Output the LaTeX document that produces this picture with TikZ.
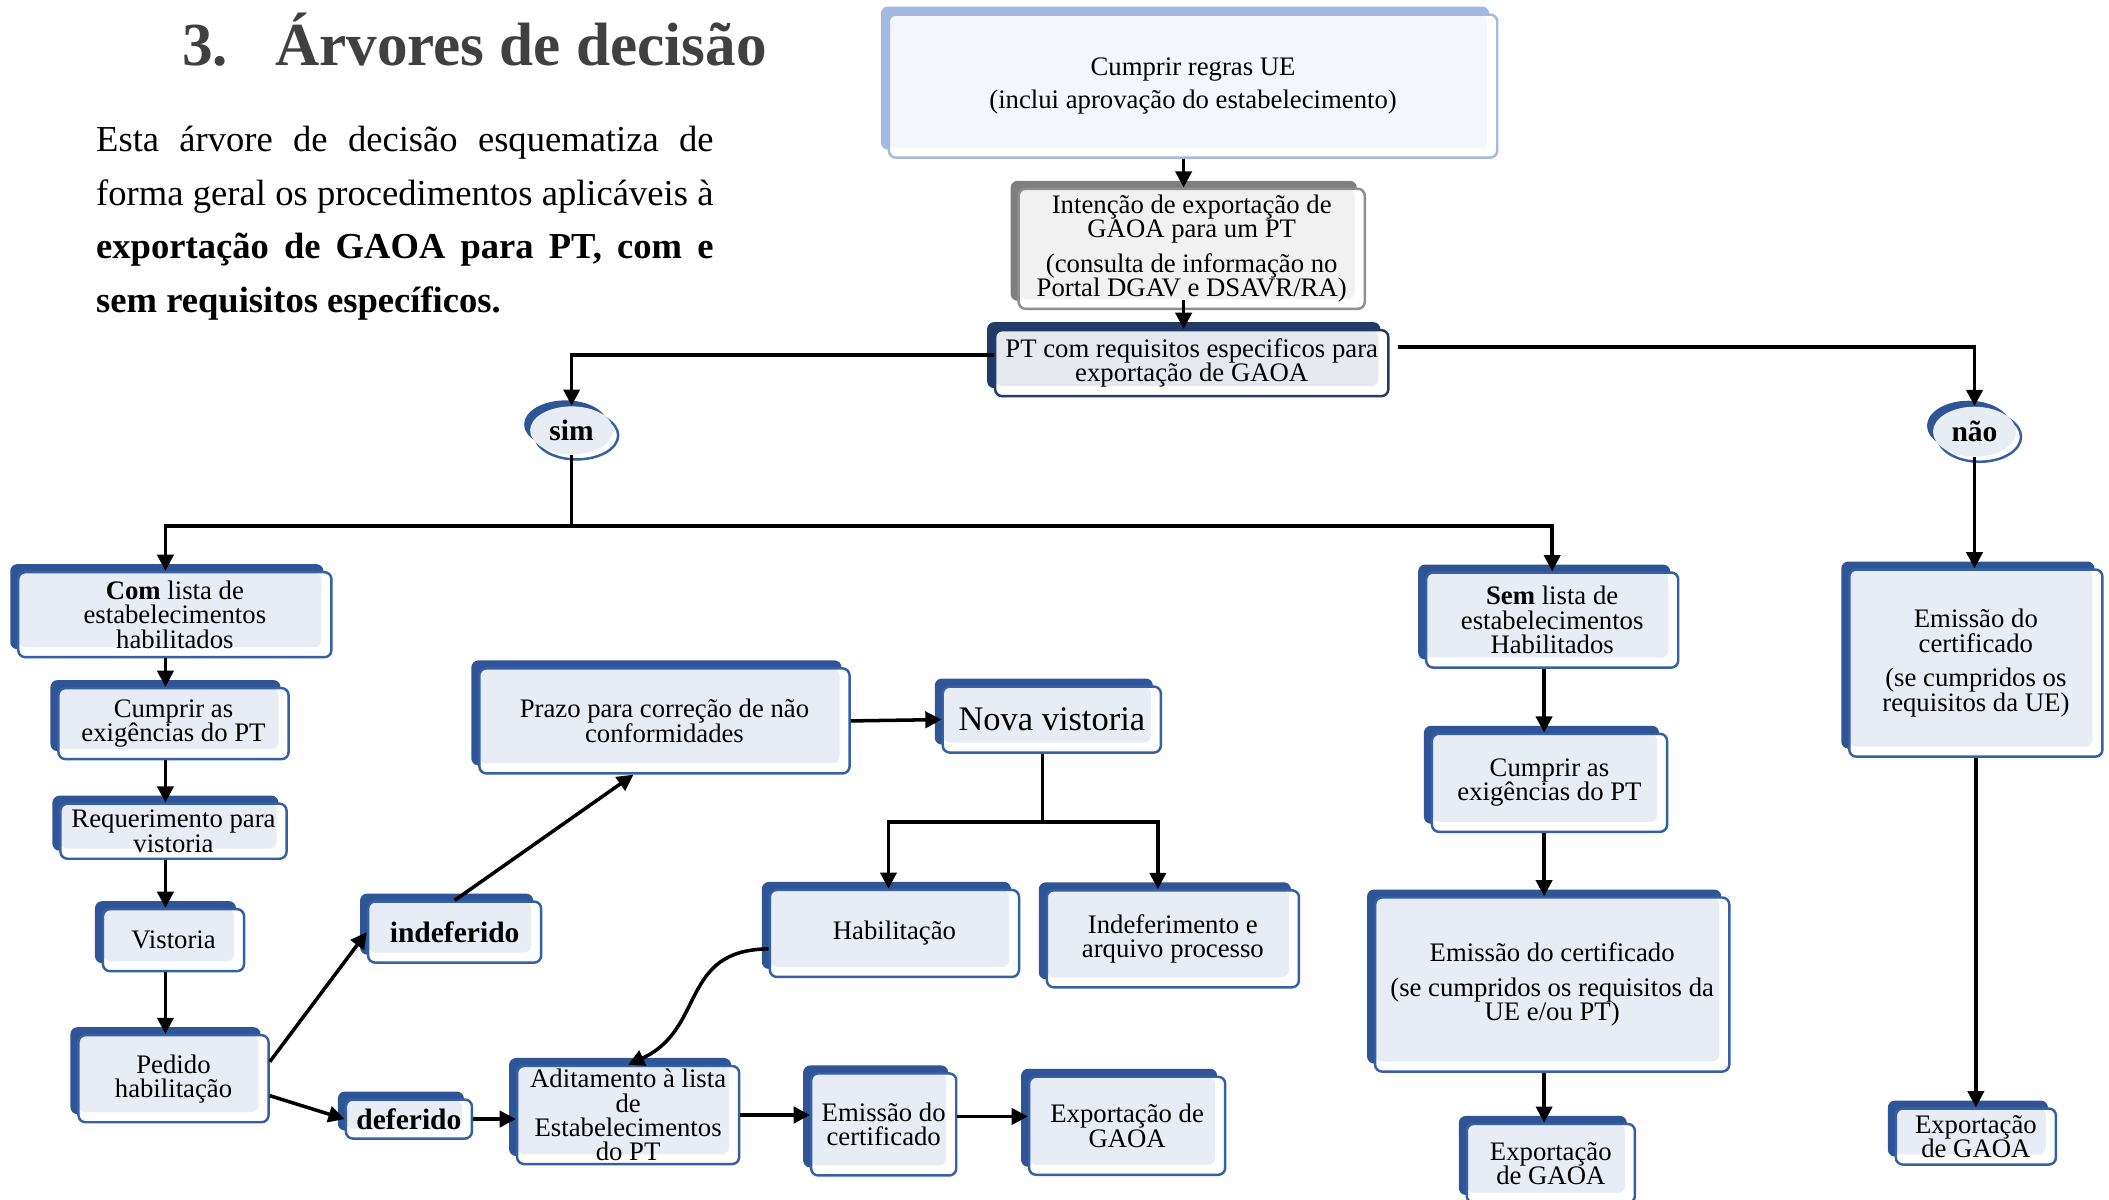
\documentclass[tikz,border=0pt]{standalone}
\usepackage{fontspec}
\setmainfont{Liberation Serif}
\usepackage{tikz}
\usetikzlibrary{arrows.meta,shapes.geometric,shadows}
\definecolor{bandblue}{HTML}{2F5597}
\definecolor{frameblue}{HTML}{3560A6}
\definecolor{panelblue}{HTML}{E8ECF4}
\definecolor{skyband}{HTML}{A3B9E2}
\definecolor{skypanel}{HTML}{F3F6FB}
\definecolor{greyband}{HTML}{7F7F7F}
\definecolor{greyframe}{HTML}{8E8E8E}
\definecolor{greypanel}{HTML}{F1F1F1}
\definecolor{navyband}{HTML}{213A66}
\definecolor{navypanel}{HTML}{E6E8EF}
\definecolor{titlegrey}{HTML}{404040}

% lines may sit closer than their glyphs allow
\newcommand\tightlines{\lineskiplimit=-10pt\relax}

\tikzset{
  wh/.style 2 args={minimum width=#1cm, minimum height=#2cm},
  % white frame with a coloured band behind it (up-left) and a tinted panel inside
  framed/.style n args={3}{rounded corners=2pt, fill=white, draw=#2, line width=0.7pt,
    general shadow={fill=#1, shadow xshift=-0.08cm, shadow yshift=0.08cm},
    path picture={\fill[#3, rounded corners=2pt] (path picture bounding box.north west)
      rectangle ([xshift=-0.1cm, yshift=0.1cm]path picture bounding box.south east);}},
  boxtext/.style={inner sep=0pt, align=center,
    font=\fontsize{7.6}{6.9}\selectfont\tightlines},
  box/.style={boxtext, framed={bandblue}{frameblue}{panelblue}},
  skybox/.style={boxtext, framed={skyband}{skyband}{skypanel}},
  greybox/.style={boxtext, framed={greyband}{greyframe}{greypanel}},
  navybox/.style={boxtext, framed={navyband}{navyband}{navypanel}},
  bold/.style={font=\fontsize{8.4}{8}\selectfont\bfseries},
  oval/.style={ellipse, fill=panelblue, inner sep=0pt, bold,
    general shadow={fill=white, draw=frameblue, line width=0.7pt,
                    shadow xshift=0.05cm, shadow yshift=-0.05cm},
    general shadow={fill=bandblue, shadow xshift=-0.06cm, shadow yshift=0.06cm}},
  link/.style={line width=1pt},
  arr/.style={link, -{Triangle[length=4.6pt,width=4.6pt]}}
}

\begin{document}
\begin{tikzpicture}[x=0.01345cm, y=-0.01345cm]
  \useasboundingbox (0,0) rectangle (1568,892);

  % ================= heading and intro =================
  \node[anchor=base west, inner sep=0pt, text=titlegrey,
        font=\fontsize{17.4}{20}\selectfont\bfseries] (secnum) at (135,49) {3.};
  \node[anchor=base west, inner sep=0pt, text=titlegrey,
        font=\fontsize{17.4}{20}\selectfont\bfseries] (title) at (204,49) {Árvores de decisão};
  \node[anchor=north west, text width=6.17cm, align=justify, inner sep=0pt,
        font=\fontsize{10.4}{15.3}\selectfont] (intro) at (71,93)
    {Esta árvore de decisão esquematiza de\linebreak
     forma geral os procedimentos aplicáveis à\linebreak
     \textbf{exportação de GAOA para PT, com e\linebreak
     sem requisitos específicos.}};

  % ================= top of the tree =================
  \node[skybox, wh={6.08}{1.43}] (ue) at (887,64)
    {Cumprir regras UE\\[2.7pt](inclui aprovação do estabelecimento)};
  \node[greybox, wh={3.46}{1.20}] (intent) at (886,185)
    {Intenção de exportação de\\GAOA para um PT\\[3pt](consulta de informação no\\Portal DGAV e DSAVR/RA)};
  \node[navybox, wh={3.93}{0.66}] (pt) at (886,270)
    {PT com requisitos especificos para\\exportação de GAOA};
  \node[oval, wh={0.83}{0.48}] (sim) at (425,320) {sim};
  \node[oval, wh={0.83}{0.50}] (nao) at (1468,321) {não};

  % ================= branch "sim": with list =================
  \node[box, wh={3.13}{0.85}] (com) at (130,457)
    {\textbf{Com} lista de\\estabelecimentos\\habilitados};
  \node[box, wh={2.30}{0.71}] (cumL) at (129,538) {Cumprir as\\exigências do PT};
  \node[box, wh={2.26}{0.55}] (req) at (129,618) {Requerimento para\\vistoria};
  \node[box, wh={1.41}{0.62}] (vis) at (129,699) {Vistoria};
  \node[box, wh={1.90}{0.87}] (ped) at (129,802) {Pedido\\habilitação};
  \node[box, bold, wh={1.73}{0.61}] (indef) at (338,693) {indeferido};
  \node[box, bold, wh={1.26}{0.39}] (def) at (304,832) {deferido};
  \node[box, wh={3.70}{1.05}] (prazo) at (494,536) {Prazo para correção de não\\conformidades};
  \node[box, wh={2.18}{0.66}, font=\fontsize{9.8}{10}\selectfont] (nova) at (782,535) {Nova vistoria};
  \node[box, wh={2.49}{0.87}] (hab) at (665,694) {Habilitação};
  \node[box, wh={2.52}{0.97}] (indA) at (872,698) {Indeferimento e\\arquivo processo};
  \node[box, wh={2.22}{0.98}, inner ysep=-0.02cm] (adit) at (467,829)
    {Aditamento à lista\\de\\Estabelecimentos\\do PT};
  \node[box, wh={1.45}{1.02}] (emisM) at (657,836) {Emissão do\\certificado};
  \node[box, wh={1.96}{0.98}] (expM) at (838,837) {Exportação de\\GAOA};

  % ================= branch "sim": without list =================
  \node[box, wh={2.52}{0.95}] (sem) at (1154,461)
    {\textbf{Sem} lista de\\estabelecimentos\\Habilitados};
  \node[box, wh={2.35}{0.98}] (cumR) at (1152,582) {Cumprir as\\exigências do PT};
  \node[box, wh={3.54}{1.74}] (emisB) at (1154,732)
    {Emissão do certificado\\[3pt](se cumpridos os requisitos da\\UE e/ou PT)};
  \node[box, wh={1.68}{0.79}] (expB) at (1153,865) {Exportação\\de GAOA};

  % ================= branch "não" =================
  \node[box, wh={2.53}{1.87}] (emisR) at (1469,493)
    {Emissão do\\certificado\\[3pt](se cumpridos os\\requisitos da UE)};
  \node[box, wh={1.60}{0.56}] (expR) at (1469,845) {Exportação\\de GAOA};

  % ================= connectors =================
  \coordinate (topcol) at (880,0);
  \coordinate (leftcol) at (123,0);
  \coordinate (midcol) at (1148,0);
  \draw[arr] (ue.south -| topcol) -- (intent.north -| topcol);
  \draw[arr] ([yshift=0.1cm]intent.south -| topcol) -- (pt.north -| topcol);
  \draw[arr] ([yshift=0.08cm]pt.west) -| (sim.north);
  \draw[arr] ([xshift=0.08cm,yshift=0.16cm]pt.east) -| (nao.north);

  \coordinate (simfork) at (425,391);
  \draw[link] (sim.south) -- (simfork);
  \draw[arr] (simfork) -| (com.north -| leftcol);
  \draw[arr] (simfork) -| (sem.north);
  \draw[arr] (nao.south) -- (nao.south |- emisR.north);

  \draw[arr] (com.south -| leftcol) -- (cumL.north -| leftcol);
  \draw[arr] (cumL.south -| leftcol) -- (req.north -| leftcol);
  \draw[arr] (req.south -| leftcol) -- (vis.north -| leftcol);
  \draw[arr] (vis.south -| leftcol) -- (ped.north -| leftcol);
  \draw[arr] (ped.10) -- (indef.west);
  \draw[arr] (ped.-10) -- (def.west);
  \draw[arr] (indef.north) -- (prazo.240);
  \draw[arr] (prazo.east) -- (nova.west);
  \draw[arr] (def.east) -- (def.east -| adit.west);

  \coordinate (novafork) at (775,611);
  \draw[link] (nova.south -| novafork) -- (novafork);
  \draw[arr] (novafork) -| ([xshift=-0.06cm]hab.north);
  \draw[arr] (novafork) -| ([xshift=-0.15cm]indA.north);
  \draw[arr] (hab.187) .. controls (505,706) and (525,765) .. (adit.north);
  \draw[arr] (adit.east) -- (adit.east -| emisM.west);
  \draw[arr] ([yshift=0.08cm]emisM.east) -- ([yshift=0.08cm]emisM.east -| expM.west);

  \draw[arr] (sem.south -| midcol) -- (cumR.north -| midcol);
  \draw[arr] (cumR.south -| midcol) -- (emisB.north -| midcol);
  \draw[arr] (emisB.south -| midcol) -- (expB.north -| midcol);
  \draw[arr] (emisR.south) -- (expR.north);
\end{tikzpicture}
\end{document}
